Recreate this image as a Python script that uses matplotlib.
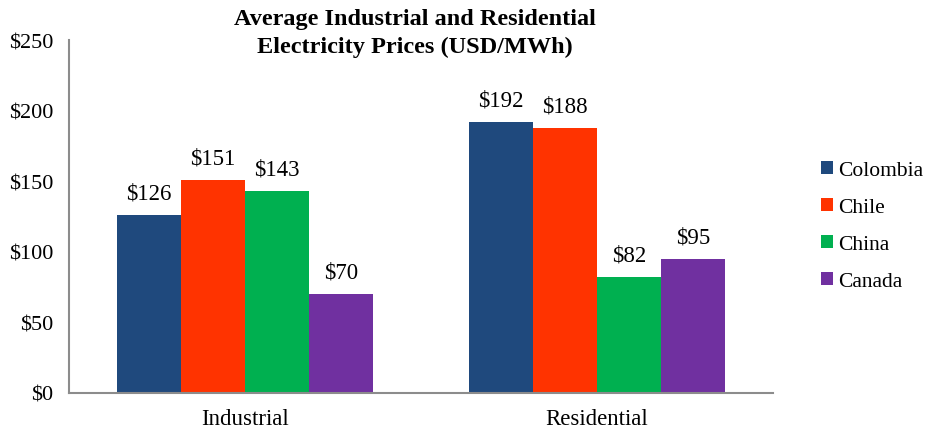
import numpy as np
import matplotlib.pyplot as plt

categories = ['Industrial', 'Residential']
countries = ['Colombia', 'Chile', 'China', 'Canada']
colombia = [126, 192]
chile = [151, 188]
china = [143, 82]
canada = [70, 95]
colors = ['#1F497D', '#FF3300', '#00B050', '#7030A0']
yticks = [0, 50, 100, 150, 200, 250]

plt.rcParams['font.family'] = ['Liberation Serif', 'DejaVu Serif']

fig = plt.figure(figsize=(9.28, 4.31), dpi=100)
ax = fig.add_axes([69/928, 37/431, 704/928, 353/431])

x = np.arange(len(categories))
w = 64/352
series = [colombia, chile, china, canada]
for i, (vals, name, c) in enumerate(zip(series, countries, colors)):
    pos = x + (i - 1.5) * w
    ax.bar(pos, vals, w, color=c, label=name)
    for p, v in zip(pos, vals):
        ax.text(p, v + 8, '$%d' % v, ha='center', va='bottom', fontsize=16.5)

ax.set_xlim(-0.5, 1.5)
ax.set_ylim(0, 250)
ax.set_yticks(yticks)
ax.set_yticklabels(['$%d' % t for t in yticks], fontsize=16)
ax.set_xticks(x)
ax.set_xticklabels(categories, fontsize=16.5)
ax.tick_params(length=0)
ax.tick_params(axis='y', pad=11.5)
ax.tick_params(axis='x', pad=11)
for s in ['top', 'right']:
    ax.spines[s].set_visible(False)
for s in ['left', 'bottom']:
    ax.spines[s].set_color('#8c8c8c')
    ax.spines[s].set_linewidth(1.5)

fig.text(0.447, 1 - 9/431, 'Average Industrial and Residential\nElectricity Prices (USD/MWh)',
         ha='center', va='top', fontsize=17.5, fontweight='bold', linespacing=1.4)

leg = fig.legend(loc='center left', bbox_to_anchor=(821/928, 1 - 227/431), frameon=False,
                 fontsize=15.5, handlelength=0.55, handleheight=0.55, handletextpad=0.25,
                 labelspacing=0.82, borderpad=0, borderaxespad=0)

fig.savefig('out.png', dpi=100)
